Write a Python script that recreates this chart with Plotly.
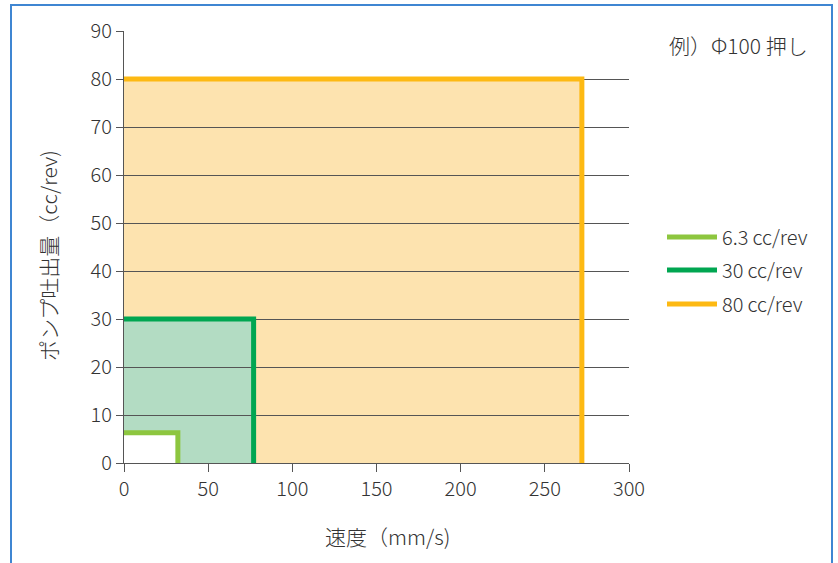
import plotly.graph_objects as go

# data
series_names = ["6.3\u2009cc/rev", "30\u2009cc/rev", "80\u2009cc/rev"]
flow_cc_rev = [6.3, 30, 80]          # pump discharge (y)
speed_mm_s = [32, 77, 272]           # max speed (x)
line_colors = ["#8DC63F", "#00A651", "#FDB913"]
fill_colors = ["#FFFFFF", "#B3DCC3", "#FDE3AF"]
x_ticks = [0, 50, 100, 150, 200, 250, 300]
y_ticks = [0, 10, 20, 30, 40, 50, 60, 70, 80, 90]

FONT = "Noto Sans CJK JP, Liberation Sans, sans-serif"
TXT = "#333333"
W = 300

PL, PT, PW, PH = 124, 31, 505, 432


def px(xp):
    return (xp - PL) / PW


def py(yp):
    return (PT + PH - yp) / PH


def f(size):
    return dict(family=FONT, size=size, color=TXT, weight=W)


fig = go.Figure()

shapes = []
for i in reversed(range(len(flow_cc_rev))):
    shapes.append(dict(type="rect", xref="x", yref="y", x0=0, x1=speed_mm_s[i],
                       y0=0, y1=flow_cc_rev[i], fillcolor=fill_colors[i],
                       line=dict(width=0), layer="below"))
shapes.append(dict(type="rect", xref="paper", yref="paper",
                   x0=px(11), x1=px(832), y0=py(600), y1=py(5),
                   line=dict(color="#3F86D2", width=2), fillcolor="rgba(0,0,0,0)",
                   layer="above"))

legend_ids = ["legend", "legend2", "legend3"]
for i in range(len(flow_cc_rev)):
    fig.add_trace(go.Scatter(
        x=[0, speed_mm_s[i], speed_mm_s[i]],
        y=[flow_cc_rev[i], flow_cc_rev[i], 0],
        mode="lines", name=series_names[i],
        line=dict(color=line_colors[i], width=5),
        legend=legend_ids[i], showlegend=True,
    ))

leg_y = [237, 270, 304]
layout_legends = {}
for i, lid in enumerate(legend_ids):
    layout_legends[lid] = dict(
        font=f(20), bgcolor="rgba(0,0,0,0)",
        xref="paper", yref="paper", xanchor="left", yanchor="middle",
        itemwidth=50, borderwidth=0, x=px(662), y=py(leg_y[i]))

fig.update_layout(
    width=838, height=563,
    margin=dict(l=PL, r=838 - PL - PW, t=PT, b=563 - PT - PH),
    paper_bgcolor="white", plot_bgcolor="white",
    font=f(19),
    shapes=shapes,
    xaxis=dict(range=[0, 300], tickvals=x_ticks, showgrid=False, zeroline=False,
               showline=True, linecolor="#555555", linewidth=1,
               ticks="outside", ticklen=8, tickcolor="#555555",
               tickfont=f(20)),
    yaxis=dict(range=[0, 90], tickvals=y_ticks, showgrid=True, gridcolor="#555555",
               gridwidth=1, zeroline=False,
               showline=True, linecolor="#555555", linewidth=1,
               ticks="outside", ticklen=7, tickcolor="#555555",
               tickfont=f(20)),
    annotations=[
        dict(text="例）Φ100 押し", xref="paper", yref="paper",
             x=px(738), y=py(45), xanchor="center", yanchor="middle",
             showarrow=False, font=f(21)),
        dict(text="ポンプ吐出量（cc/rev)", xref="paper", yref="paper",
             x=px(48), y=py(256), xanchor="center", yanchor="middle",
             textangle=-90, showarrow=False, font=f(21)),
        dict(text="速度（mm/s)", xref="paper", yref="paper",
             x=px(387), y=py(536), xanchor="center", yanchor="middle",
             showarrow=False, font=f(21)),
    ],
    **layout_legends,
)

fig.write_html("out.html", config={"displayModeBar": False},
               post_script="document.body.style.margin='0';")
